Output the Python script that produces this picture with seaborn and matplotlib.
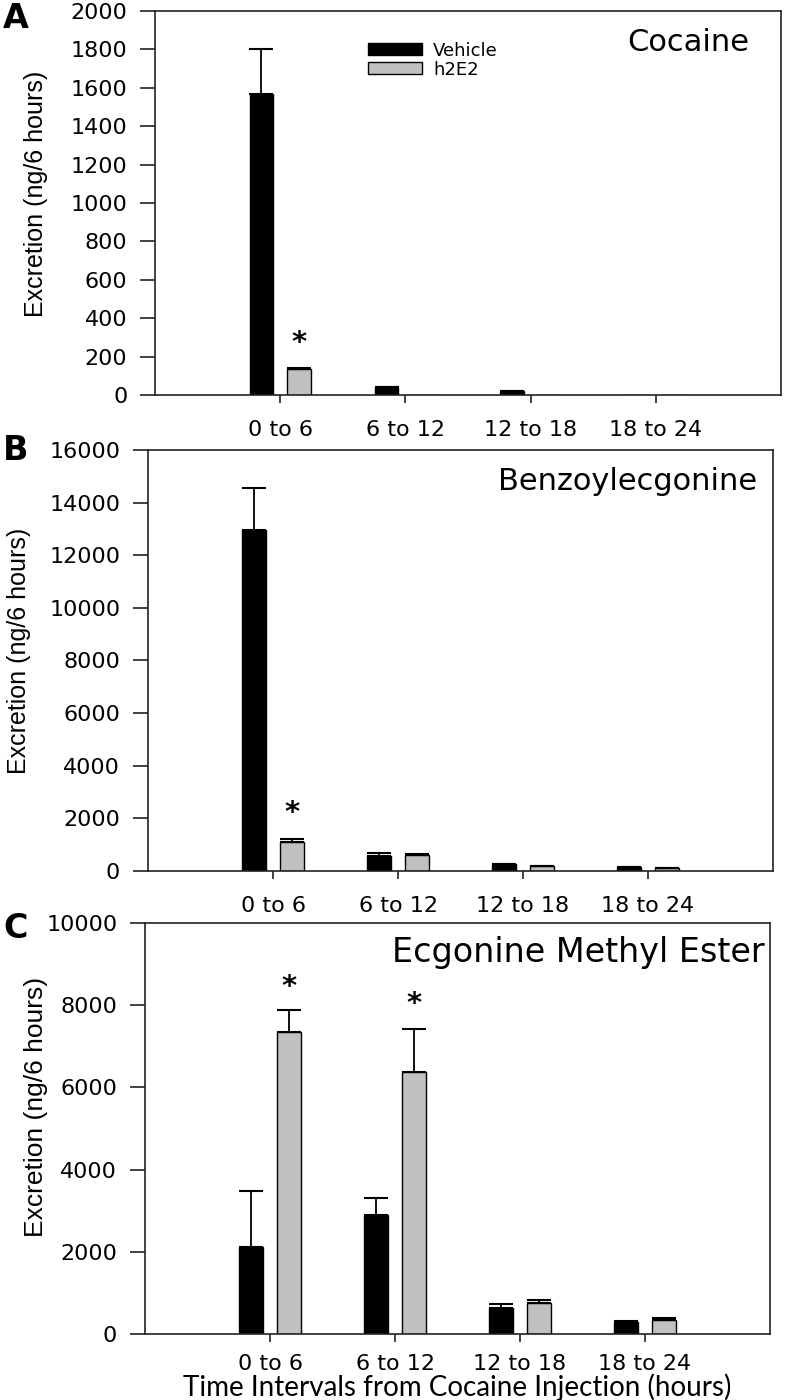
import numpy as np
import pandas as pd
import seaborn as sns
import matplotlib.pyplot as plt

intervals = ['0 to 6', '6 to 12', '12 to 18', '18 to 24']
groups = ['Vehicle', 'h2E2']

# means and upper error (SEM)
coc_veh = [1568, 40, 22, 0]
coc_veh_err = [232, 0, 0, 0]
coc_h2 = [135, 0, 0, 0]
coc_h2_err = [5, 0, 0, 0]

benz_veh = [12940, 585, 266, 152]
benz_veh_err = [1600, 90, 15, 10]
benz_h2 = [1110, 590, 177, 100]
benz_h2_err = [110, 70, 15, 10]

eme_veh = [2125, 2895, 625, 300]
eme_veh_err = [1355, 405, 100, 20]
eme_h2 = [7356, 6383, 746, 349]
eme_h2_err = [525, 1040, 80, 32]

titles = ['Cocaine', 'Benzoylecgonine', 'Ecgonine Methyl Ester']
letters = ['A', 'B', 'C']
ymax = [2000, 16000, 10000]
ystep = [200, 2000, 2000]
# (interval index, y) of the significance stars, h2E2 bars
stars = [[(0, 271)], [(0, 2204)], [(0, 8443), (1, 8029)]]

sns.set_style('ticks')
plt.rcParams['font.family'] = ['DejaVu Sans']
plt.rcParams['text.color'] = 'black'
plt.rcParams['axes.labelcolor'] = 'black'
plt.rcParams['xtick.color'] = 'black'
plt.rcParams['ytick.color'] = 'black'

fig = plt.figure(figsize=(7.89, 14), dpi=100)
boxes = [[0.1965, 0.7179, 0.7934, 0.2743],
         [0.1876, 0.3779, 0.7921, 0.3007],
         [0.1838, 0.0471, 0.7921, 0.2936]]

data = [(coc_veh, coc_veh_err, coc_h2, coc_h2_err),
        (benz_veh, benz_veh_err, benz_h2, benz_h2_err),
        (eme_veh, eme_veh_err, eme_h2, eme_h2_err)]

pal = {'Vehicle': 'black', 'h2E2': '#c0c0c0'}
ylab_x = [-0.171, -0.187, -0.155]
ylab_y = [0.523, 0.523, 0.552]
ylab_fs = [18, 18, 19]
title_pos = [(0.95, 0.919, 22), (0.974, 0.924, 22), (0.992, 0.929, 24)]
letter_y = [18, 450, 928]
xpad = [12, 12, 8]

for i in range(3):
    veh, veh_err, h2, h2_err = data[i]
    df = pd.DataFrame({'interval': intervals * 2,
                       'group': ['Vehicle'] * 4 + ['h2E2'] * 4,
                       'value': veh + h2})
    ax = fig.add_axes(boxes[i])
    sns.barplot(data=df, x='interval', y='value', hue='group', order=intervals,
                hue_order=groups, palette=pal, saturation=1, width=0.6, gap=0.37,
                edgecolor='black', linewidth=1, errorbar=None, legend=False, ax=ax)
    errs = [veh_err, h2_err]
    vals = [veh, h2]
    for cont, v, e in zip(ax.containers, vals, errs):
        xs = [p.get_x() + p.get_width() / 2 for p in cont.patches]
        v = np.array(v, float)
        e = np.array(e, float)
        keep = v > 0
        ax.errorbar(np.array(xs)[keep], v[keep], yerr=[np.zeros(keep.sum()), e[keep]],
                    fmt='none', ecolor='black', elinewidth=1.3, capsize=8.5, capthick=1.5)
    h2_x = [p.get_x() + p.get_width() / 2 for p in ax.containers[1].patches]
    for k, y in stars[i]:
        ax.text(h2_x[k], y, '*', ha='center', va='center', fontsize=21, fontweight='bold')

    ax.set_xlim(-1, 4)
    ax.set_ylim(0, ymax[i])
    ax.set_yticks(np.arange(0, ymax[i] + 1, ystep[i]))
    ax.set_xlabel('')
    ax.set_ylabel('Excretion (ng/6 hours)', family='Liberation Sans', fontsize=ylab_fs[i])
    ax.yaxis.set_label_coords(ylab_x[i], ylab_y[i])
    for s in ax.spines.values():
        s.set_visible(True)
        s.set_color('#222222')
        s.set_linewidth(1.2)
    ax.tick_params(axis='y', direction='out', length=11, width=1.2, labelsize=16, pad=9,
                   color='#222222')
    ax.tick_params(axis='x', direction='out', length=6, width=1.2, labelsize=16, pad=xpad[i],
                   color='#222222')
    tx, ty, tfs = title_pos[i]
    ax.text(tx, ty, titles[i], transform=ax.transAxes, ha='right', va='center', fontsize=tfs)
    fig.text(0.004, 1 - letter_y[i] / 1400, letters[i], fontsize=24, fontweight='bold',
             va='center', ha='left')
    if i == 0:
        ax.legend(ax.containers, groups, loc='upper left', bbox_to_anchor=(0.34, 0.92),
                  frameon=False, fontsize=13, handlelength=3.0, handleheight=0.67,
                  handletextpad=0.6, borderpad=0, borderaxespad=0, labelspacing=0.05)
    if i == 2:
        ax.set_xlabel('Time Intervals from Cocaine Injection (hours)', family='Lato',
                      fontsize=20, labelpad=0)

fig.savefig('out.png', dpi=100)
